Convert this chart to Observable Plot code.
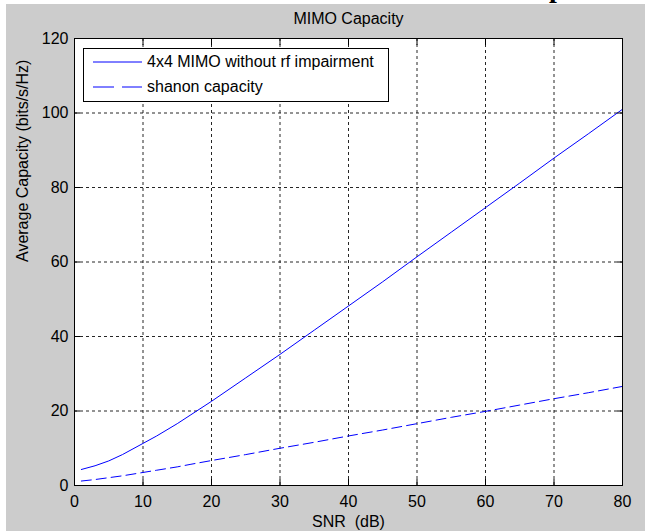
<!DOCTYPE html>
<html><head><meta charset="utf-8">
<script src="https://cdn.jsdelivr.net/npm/d3@7"></script>
<script src="https://cdn.jsdelivr.net/npm/@observablehq/plot@0.6"></script>
<style>
html,body{margin:0;padding:0;background:#fff;}
#wrap{position:relative;width:645px;height:531px;overflow:hidden;background:#fff;}
#chart{position:absolute;left:6px;top:4px;}
#frag{position:absolute;left:540px;top:0;}
#legend{position:absolute;left:83px;top:48px;width:306px;height:54px;box-sizing:border-box;border:1px solid #000;background:#fff;font-family:"Liberation Sans",Arial,sans-serif;font-size:16px;color:#000;}
.row{position:absolute;left:0;height:20px;display:flex;align-items:center;white-space:nowrap;}
.row svg{margin-left:9px;margin-right:5px;}
</style>
</head><body>
<div id="wrap"><div id="chart"></div><div id="legend"></div>
<svg id="frag" width="30" height="4"><text x="9" y="-3" font-family="'Liberation Serif', serif" font-weight="bold" font-size="28" fill="#000">p</text></svg>
</div>
<script>
// ---- data ----
const snr = [1, 3, 5, 7, 10, 12, 15, 17, 20, 25, 30, 35, 40, 45, 50, 55, 60, 65, 70, 75, 80];
const mimo = [4.3, 5.3, 6.6, 8.3, 11.3, 13.3, 16.6, 19.0, 22.6, 28.9, 35.2, 41.7, 48.2, 54.7, 61.4, 68.0, 74.6, 81.2, 87.9, 94.4, 101.0];
const shannon = [1.2, 1.6, 2.1, 2.6, 3.5, 4.1, 5.0, 5.7, 6.7, 8.3, 10.0, 11.6, 13.3, 14.9, 16.6, 18.3, 19.9, 21.6, 23.3, 24.9, 26.6];
const seriesNames = ["4x4 MIMO without rf impairment", "shanon capacity"];
const xTicks = [0, 10, 20, 30, 40, 50, 60, 70, 80];
const yTicks = [0, 20, 40, 60, 80, 100, 120];
const titleText = "MIMO Capacity";
const xLabel = "SNR\u00a0 (dB)";
const yLabel = "Average Capacity (bits/s/Hz)";

const lineColor = "#0000ff";
const dash = "10,5";

const rowsMimo = snr.map((s, i) => ({snr: s, cap: mimo[i], series: seriesNames[0]}));
const rowsShannon = snr.map((s, i) => ({snr: s, cap: shannon[i], series: seriesNames[1]}));

const font = "'Liberation Sans', Arial, sans-serif";
const noText = () => "";

const chart = Plot.plot({
  width: 639, height: 527,
  marginLeft: 68, marginRight: 23, marginTop: 34, marginBottom: 46,
  x: {domain: [0, 80], label: null},
  y: {domain: [0, 120], label: null},
  style: {background: "#cccccc", fontFamily: font, fontSize: "16px", color: "black", overflow: "visible"},
  marks: [
    Plot.frame({fill: "white", stroke: null}),
    Plot.gridX({ticks: xTicks, stroke: "#000", strokeOpacity: 0.85, strokeDasharray: "3,3"}),
    Plot.gridY({ticks: yTicks, stroke: "#000", strokeOpacity: 0.85, strokeDasharray: "3,3"}),
    Plot.line(rowsMimo, {x: "snr", y: "cap", stroke: lineColor, strokeWidth: 1}),
    Plot.line(rowsShannon, {x: "snr", y: "cap", stroke: lineColor, strokeWidth: 1, strokeDasharray: dash}),
    // inward ticks on all four sides
    Plot.axisX({ticks: xTicks, anchor: "bottom", tickSize: -6, tickFormat: noText, label: null}),
    Plot.axisX({ticks: xTicks, anchor: "top", tickSize: -6, tickFormat: noText, label: null}),
    Plot.axisY({ticks: yTicks, anchor: "left", tickSize: -6, tickFormat: noText, label: null}),
    Plot.axisY({ticks: yTicks, anchor: "right", tickSize: -6, tickFormat: noText, label: null}),
    // tick labels
    Plot.axisX({ticks: xTicks, anchor: "bottom", tickSize: 0, tickPadding: 10, label: null, fill: "black"}),
    Plot.axisY({ticks: yTicks, anchor: "left", tickSize: 0, tickPadding: 6, label: null, fill: "black"}),
    Plot.frame({stroke: "black", strokeWidth: 1}),
    // title and axis labels
    Plot.text([titleText], {text: d => d, frameAnchor: "top", dy: -19.8, lineAnchor: "middle", fill: "black", fontSize: 16}),
    Plot.text([xLabel], {text: d => d, frameAnchor: "bottom", dy: 36.5, lineAnchor: "middle", fill: "black", fontSize: 16}),
    Plot.text([yLabel], {text: d => d, frameAnchor: "left", dx: -52, rotate: -90, lineAnchor: "middle", fill: "black", fontSize: 16})
  ]
});
document.getElementById("chart").appendChild(chart);

// legend
const legend = document.getElementById("legend");
seriesNames.forEach((name, i) => {
  const row = document.createElement("div");
  row.className = "row";
  row.style.top = (i === 0 ? 3 : 28) + "px";
  const ns = "http://www.w3.org/2000/svg";
  const sw = document.createElementNS(ns, "svg");
  sw.setAttribute("width", 49); sw.setAttribute("height", 20);
  const ln = document.createElementNS(ns, "line");
  ln.setAttribute("x1", 0); ln.setAttribute("x2", 49);
  ln.setAttribute("y1", 10); ln.setAttribute("y2", 10);
  ln.setAttribute("stroke", lineColor);
  ln.setAttribute("stroke-width", 1);
  if (i === 1) ln.setAttribute("stroke-dasharray", "21,8");
  sw.appendChild(ln);
  row.appendChild(sw);
  const t = document.createElement("span");
  t.textContent = name;
  row.appendChild(t);
  legend.appendChild(row);
});
</script>
</body></html>
